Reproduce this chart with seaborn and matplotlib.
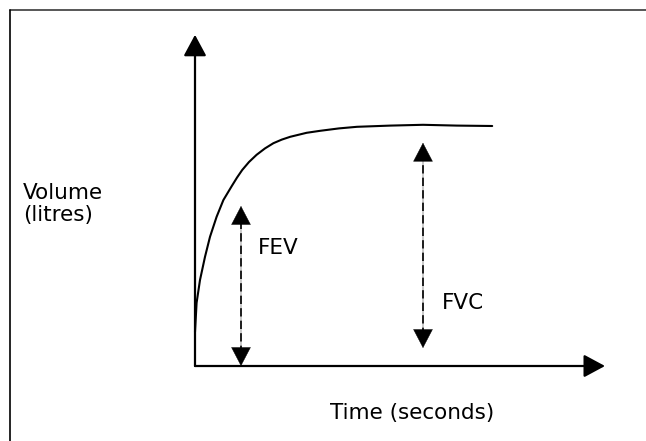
import matplotlib
matplotlib.use('Agg')
import matplotlib.pyplot as plt
import seaborn as sns
import pandas as pd
from matplotlib.lines import Line2D

# spirometry curve (time units, volume units)
time_pts = [0.00, 0.04, 0.125, 0.25, 0.375, 0.54, 0.71, 0.92, 1.05, 1.18,
            1.35, 1.54, 1.75, 1.96, 2.17, 2.38, 2.79, 3.13, 3.60, 4.05,
            4.88, 5.70, 6.55, 7.43]
volume_pts = [0.85, 1.58, 2.15, 2.73, 3.23, 3.73, 4.15, 4.50, 4.71, 4.90,
              5.10, 5.28, 5.44, 5.57, 5.66, 5.73, 5.83, 5.88, 5.94, 5.98,
              6.01, 6.03, 6.01, 6.00]

# FEV / FVC markers: (time, bottom volume, top volume)
fev = (1.15, 0.0, 4.0)
fvc = (5.70, 0.45, 5.58)

x_axis_end = 10.25
y_axis_end = 8.28

sns.set_style('white')
plt.rcParams['font.family'] = ['DejaVu Sans']
plt.rcParams['text.color'] = 'black'

fig = plt.figure(figsize=(6.46, 4.41), dpi=100)
ax = fig.add_axes([0, 0, 1, 1])
ax.set_xlim(-195 / 40, (646 - 195) / 40)
ax.set_ylim(-(441 - 366) / 40, 366 / 40)
ax.axis('off')

df = pd.DataFrame({'time': time_pts, 'volume': volume_pts})
sns.lineplot(data=df, x='time', y='volume', color='black', lw=1.5,
             sort=False, ax=ax)

head = '-|>,head_length=13,head_width=7'
# axes with arrows
ax.annotate('', xy=(0, y_axis_end), xytext=(0, 0),
            arrowprops=dict(arrowstyle=head, color='black', lw=1.6,
                            mutation_scale=1, shrinkA=0, shrinkB=0))
ax.annotate('', xy=(x_axis_end, 0), xytext=(0, 0),
            arrowprops=dict(arrowstyle=head, color='black', lw=1.6,
                            mutation_scale=1, shrinkA=0, shrinkB=0))

# double arrows: solid heads, dashed shaft
dbl = '<|-|>,head_length=13,head_width=6.8'
for t, lo, hi in [fev, fvc]:
    ax.annotate('', xy=(t, hi), xytext=(t, lo),
                arrowprops=dict(arrowstyle=dbl, color='black', lw=0.3,
                                mutation_scale=1, shrinkA=0, shrinkB=0))
    ax.plot([t, t], [lo + 0.3, hi - 0.3], color='black', lw=1.2,
            ls=(0, (5, 2.5)))

ax.text(1.575, 2.95, 'FEV', fontsize=15.5, va='center', ha='left')
ax.text(6.175, 1.575, 'FVC', fontsize=15.5, va='center', ha='left')
ax.text(-4.3, 4.05, 'Volume\n(litres)', fontsize=15.5, va='center',
        ha='left', linespacing=1.1)
ax.text(5.43, -1.175, 'Time (seconds)', fontsize=15.5, va='center',
        ha='center')

# frame around the figure (cut off on right and bottom)
fig.add_artist(Line2D([9.5 / 646, 1], [1 - 9.5 / 441] * 2,
                      transform=fig.transFigure, color='#3a3a3a', lw=1.2))
fig.add_artist(Line2D([9.5 / 646] * 2, [0, 1 - 9.5 / 441],
                      transform=fig.transFigure, color='black', lw=1.2))

fig.savefig('out.png', dpi=100)
